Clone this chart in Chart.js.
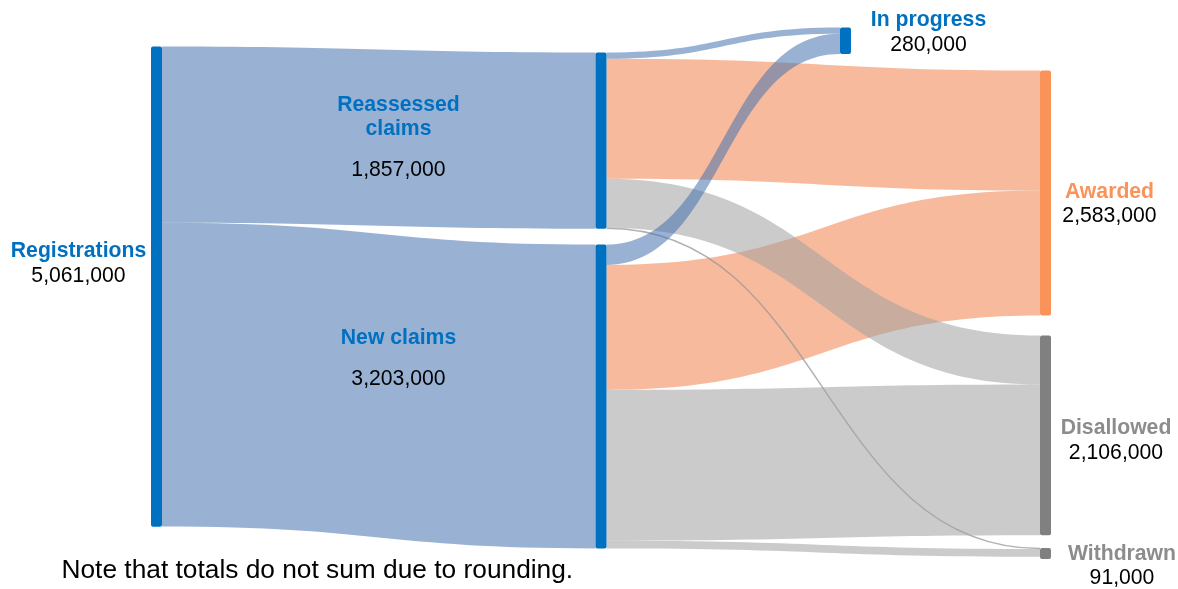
<!DOCTYPE html>
<html>
<head>
<meta charset="utf-8">
<script src="https://cdn.jsdelivr.net/npm/chart.js@4.4.1/dist/chart.umd.min.js"></script>
<style>
html,body{margin:0;padding:0;background:#fff;}
#wrap{width:1178px;height:589px;position:relative;}
</style>
</head>
<body>
<div id="wrap"><canvas id="c"></canvas></div>
<script>
// ---------- DATA ----------
const nodeNames = ['Registrations', 'Reassessed\nclaims', 'New claims', 'In progress', 'Awarded', 'Disallowed', 'Withdrawn'];
const nodeTotals = [5061000, 1857000, 3203000, 280000, 2583000, 2106000, 91000];
const flowFrom   = [0, 0, 1, 1, 1, 1, 2, 2, 2, 2];
const flowTo     = [1, 2, 3, 4, 5, 6, 3, 4, 5, 6];
const flowValues = [1857000, 3203000, 65000, 1265000, 517000, 10000, 215000, 1318000, 1589000, 81000];
const noteText = 'Note that totals do not sum due to rounding.';

// ---------- LAYOUT / STYLE ----------
const layout = {
  column: [0, 1, 1, 1.55, 2, 2, 2],                 // x stage of each node
  top: [490000, 553000, 2577000, 290000, 743000, 3536000, 5776000], // node top (value units)
  nodeWidth: 11,
  minNodePx: 11,
  minFlowPx: 1.4,
  // label offsets: [dx from node left, dy name, dy value] relative to node centre
  labels: [
    {dx: -72.5, name: -35, value: -10},
    {dx: -197, name: -35, value: 30},
    {dx: -197, name: -58, value: -17.5},
    {dx: 88.5, name: -20.5, value: 4},
    {dx: 69.5, name: -1, value: 23.5},
    {dx: 76, name: -7.5, value: 17.5},
    {dx: 82, name: 1, value: 25}
  ]
};
const nodeColors = ['#0070C0', '#0070C0', '#0070C0', '#0070C0', '#F9935A', '#808080', '#808080'];
const labelColors = ['#0070C0', '#0070C0', '#0070C0', '#0070C0', '#F9935A', '#8C8C8C', '#8C8C8C'];
const flowColorByTarget = {1: 'rgba(70,114,176,0.55)', 2: 'rgba(70,114,176,0.55)', 3: 'rgba(70,114,176,0.55)',
  4: 'rgba(244,140,90,0.6)', 5: 'rgba(160,160,160,0.55)', 6: 'rgba(160,160,160,0.55)'};
const flowLayerByTarget = {1: 3, 2: 3, 3: 2, 4: 0, 5: 1, 6: 1};
const FONT = "'Liberation Sans', Arial, sans-serif";

function fmt(v){ return v.toLocaleString('en-US'); }

function roundRect(ctx, x, y, w, h, r){
  r = Math.min(r, w/2, h/2);
  ctx.beginPath();
  ctx.moveTo(x + r, y);
  ctx.lineTo(x + w - r, y);
  ctx.quadraticCurveTo(x + w, y, x + w, y + r);
  ctx.lineTo(x + w, y + h - r);
  ctx.quadraticCurveTo(x + w, y + h, x + w - r, y + h);
  ctx.lineTo(x + r, y + h);
  ctx.quadraticCurveTo(x, y + h, x, y + h - r);
  ctx.lineTo(x, y + r);
  ctx.quadraticCurveTo(x, y, x + r, y);
  ctx.closePath();
}

const sankeyPlugin = {
  id: 'sankey',
  afterDraw(chart){
    const ctx = chart.ctx;
    const xs = chart.scales.x, ys = chart.scales.y;
    const nodes = nodeNames.map((n, i) => {
      const left = xs.getPixelForValue(layout.column[i]);
      const top = ys.getPixelForValue(layout.top[i]);
      const bottom = ys.getPixelForValue(layout.top[i] + nodeTotals[i]);
      const h = Math.max(layout.minNodePx, bottom - top);
      return {left, right: left + layout.nodeWidth, top, h};
    });
    const outCum = nodeNames.map(() => 0);
    const inCum = nodeNames.map(() => 0);
    const flows = flowValues.map((v, k) => {
      const s = flowFrom[k], t = flowTo[k];
      let sy0 = ys.getPixelForValue(layout.top[s] + outCum[s]);
      let sy1 = ys.getPixelForValue(layout.top[s] + outCum[s] + v);
      let ty0 = ys.getPixelForValue(layout.top[t] + inCum[t]);
      let ty1 = ys.getPixelForValue(layout.top[t] + inCum[t] + v);
      outCum[s] += v; inCum[t] += v;
      const thin = (sy1 - sy0) < 2;
      return {x0: nodes[s].right, x1: nodes[t].left, sy0, sy1, ty0, ty1, thin,
              color: flowColorByTarget[t], layer: flowLayerByTarget[t], k};
    });
    flows.sort((a, b) => a.layer - b.layer || a.k - b.k);
    ctx.save();
    flows.forEach(f => {
      const mx = (f.x0 + f.x1) / 2;
      if (f.thin){
        const a = (f.sy0 + f.sy1) / 2, b = (f.ty0 + f.ty1) / 2;
        ctx.beginPath();
        ctx.moveTo(f.x0, a);
        ctx.bezierCurveTo(mx, a, mx, b, f.x1, b);
        ctx.lineWidth = layout.minFlowPx;
        ctx.strokeStyle = 'rgba(150,150,150,0.75)';
        ctx.stroke();
        return;
      }
      ctx.beginPath();
      ctx.moveTo(f.x0, f.sy0);
      ctx.bezierCurveTo(mx, f.sy0, mx, f.ty0, f.x1, f.ty0);
      ctx.lineTo(f.x1, f.ty1);
      ctx.bezierCurveTo(mx, f.ty1, mx, f.sy1, f.x0, f.sy1);
      ctx.closePath();
      ctx.fillStyle = f.color;
      ctx.fill();
    });
    nodes.forEach((n, i) => {
      roundRect(ctx, n.left, n.top, layout.nodeWidth, n.h, 2);
      ctx.fillStyle = nodeColors[i];
      ctx.fill();
    });
    ctx.textAlign = 'center';
    ctx.textBaseline = 'middle';
    nodes.forEach((n, i) => {
      const L = layout.labels[i];
      const cx = n.left + L.dx;
      const cy = n.top + n.h / 2;
      const lines = nodeNames[i].split('\n');
      ctx.font = 'bold 21.2px ' + FONT;
      ctx.fillStyle = labelColors[i];
      lines.forEach((ln, j) => ctx.fillText(ln, cx, cy + L.name + j * 23.5));
      ctx.font = '21.2px ' + FONT;
      ctx.fillStyle = '#000000';
      ctx.fillText(fmt(nodeTotals[i]), cx, cy + L.value);
    });
    ctx.textAlign = 'left';
    ctx.textBaseline = 'alphabetic';
    ctx.font = '26.3px ' + FONT;
    ctx.fillStyle = '#000000';
    ctx.fillText(noteText, 61.5, 578);
    ctx.restore();
  }
};

const colScale = 444.5, colOrigin = 151;
new Chart(document.getElementById('c'), {
  type: 'scatter',
  data: {datasets: [{data: [], showLine: false}]},
  options: {
    responsive: true,
    maintainAspectRatio: false,
    animation: false,
    events: [],
    layout: {padding: 0},
    plugins: {legend: {display: false}, tooltip: {enabled: false}, title: {display: false}},
    scales: {
      x: {type: 'linear', display: false, min: -colOrigin / colScale, max: (1178 - colOrigin) / colScale},
      y: {type: 'linear', display: false, reverse: true, min: 0, max: 589 * 10540}
    }
  },
  plugins: [sankeyPlugin]
});
</script>
</body>
</html>
